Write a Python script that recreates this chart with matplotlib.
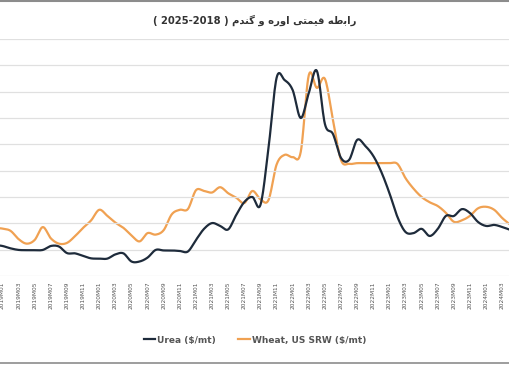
import numpy as np
import matplotlib
matplotlib.use('Agg')
import matplotlib.pyplot as plt
from matplotlib.lines import Line2D

# monthly values, 2018M12 .. 2024M03
urea = [218, 214, 205, 199, 198, 198, 199, 214, 212, 187, 186, 176, 167, 166, 166, 182,
        186, 155, 155, 170, 199, 197, 197, 195, 193, 237, 279, 301, 290, 277, 332, 381,
        400, 370, 586, 852, 844, 806, 700, 795, 879, 677, 639, 548, 541, 617, 594, 556,
        495, 415, 324, 267, 263, 279, 252, 279, 328, 328, 354, 339, 305, 290, 294, 286,
        275]
wheat = [204, 203, 200, 189, 183, 188, 205, 190, 183, 184, 193, 204, 214, 228, 220, 211,
         204, 194, 186, 197, 195, 201, 222, 228, 229, 254, 253, 251, 258, 250, 244, 237,
         253, 242, 241, 288, 301, 298, 305, 407, 390, 402, 347, 294, 289, 290, 290, 290,
         290, 290, 289, 270, 256, 245, 238, 233, 224, 212, 214, 220, 230, 232, 228, 217,
         208]

months = []
for y in range(2018, 2025):
    for m in range(1, 13):
        months.append('%dM%02d' % (y, m))
months = months[11:11 + len(urea)]

title_paren = '( 2025-2018 )'
# persian title in presentation forms (logical order), reversed for display
title_fa = ('\uFEAD\uFE8D\uFE91\uFEC3\uFEEA \uFED7\uFBFF\uFEE4\uFE98\uFBFD '
            '\uFE8D\uFEED\uFEAD\uFEE9 \uFEED \uFB94\uFEE8\uFEAA\uFEE1')
legend_labels = ['Urea ($/mt)', 'Wheat, US SRW ($/mt)']

c_urea = '#1e2b3b'
c_wheat = '#f0a152'
c_text = '#555555'


def smooth(ys, n=12):
    y = np.asarray(ys, float)
    x = np.arange(len(y), dtype=float)
    yp = np.concatenate([[2 * y[0] - y[1]], y, [2 * y[-1] - y[-2]]])
    t = np.linspace(0, 1, n, endpoint=False)
    xs, out = [], []
    for i in range(len(y) - 1):
        p0, p1, p2, p3 = yp[i:i + 4]
        out.append(0.5 * (2 * p1 + (-p0 + p2) * t + (2 * p0 - 5 * p1 + 4 * p2 - p3) * t ** 2
                          + (-p0 + 3 * p1 - 3 * p2 + p3) * t ** 3))
        xs.append(x[i] + t)
    xs.append([x[-1]])
    out.append([y[-1]])
    return np.concatenate(xs), np.concatenate(out)


fig = plt.figure(figsize=(5.1, 3.65), dpi=100)
ax = fig.add_axes([0, 89 / 365, 1, 237 / 365])
ax2 = ax.twinx()

xu, yu = smooth(urea)
xw, yw = smooth(wheat)
# x index 0 = 2018M12
ax2.plot(xw, yw, color=c_wheat, lw=1.6, solid_capstyle='round')
ax.plot(xu, yu, color=c_urea, lw=1.6, solid_capstyle='round')
ax.set_zorder(ax2.get_zorder() + 1)
ax.patch.set_visible(False)

ax.set_xlim(0.69, 63.96)
ax.set_ylim(100, 1000)
ax2.set_ylim(140, 455)
ax.set_yticks(np.arange(100, 1001, 100))
ax.yaxis.grid(True, color='#e0e0e0', lw=0.9)
ax.tick_params(axis='y', length=0, labelleft=False)
ax2.tick_params(axis='y', length=0, labelright=False)
ax2.set_yticks([])

tick_pos = list(range(1, len(months), 2))
ax.set_xticks(tick_pos)
ax.set_xticklabels([months[i] for i in tick_pos], rotation=90, fontsize=4.2, color=c_text)
ax.tick_params(axis='x', length=0, pad=4)
for a in (ax, ax2):
    for s in a.spines.values():
        s.set_visible(False)

fig.text(0.5, 1 - 20 / 365, title_paren + ' ' + title_fa[::-1], ha='center', va='center',
         fontsize=7.2, fontweight='bold', color='#333333', family='DejaVu Sans')

handles = [Line2D([], [], color=c_urea, lw=1.6), Line2D([], [], color=c_wheat, lw=1.6)]
leg = fig.legend(handles, legend_labels, loc='center', bbox_to_anchor=(0.5, 1 - 340 / 365),
                 ncol=2, frameon=False, fontsize=6.5, handlelength=1.3, handletextpad=0.2,
                 columnspacing=2.5)
for t in leg.get_texts():
    t.set_color(c_text)
    t.set_fontweight('bold')

fig.add_artist(Line2D([0, 1], [0.998, 0.998], color='#8c8c8c', lw=1.5))
fig.add_artist(Line2D([0, 1], [0.005, 0.005], color='#8c8c8c', lw=1.2))

fig.savefig('out.png', dpi=100)
